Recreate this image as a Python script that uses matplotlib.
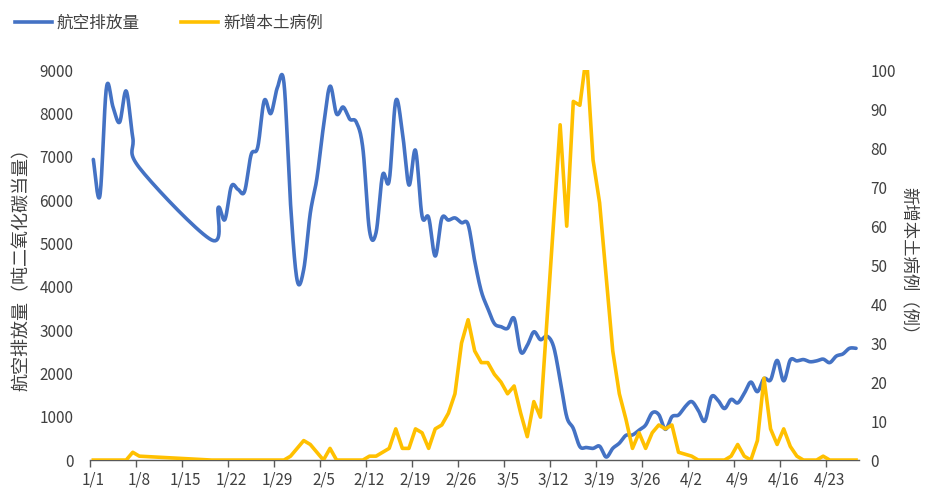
import numpy as np
import pandas as pd
import matplotlib
matplotlib.use("Agg")
import matplotlib.pyplot as plt
from matplotlib.lines import Line2D

plt.rcParams['font.family'] = ['Noto Sans CJK SC', 'DejaVu Sans']

# daily series, 2022-01-01 .. 2022-04-27 (nan = no data)
nan = np.nan
emissions = [
    6940, 6100, 8600, 8150, 7800, 8520, 7450, 6750,
    nan, nan, nan, nan, nan, nan, nan, nan, nan, nan,
    5080, 5830, 5550, 6320, 6250, 6200, 7050, 7220, 8300, 8000,
    8600, 8700, 5900, 4150, 4400, 5700, 6500, 7700, 8630, 7990,
    8150, 7870, 7800, 7190, 5300, 5250, 6580, 6450, 8290, 7580,
    6350, 7150, 5630, 5600, 4710, 5580, 5540, 5590, 5480, 5440,
    4600, 3900, 3500, 3150, 3080, 3040, 3270, 2500, 2650, 2960,
    2780, 2860, 2620, 1850, 1000, 730, 310, 290, 270, 320,
    70, 270, 390, 570, 580, 690, 810, 1090, 1050, 710,
    1000, 1040, 1230, 1350, 1150, 900, 1460, 1380, 1190, 1400,
    1320, 1540, 1800, 1580, 1880, 1850, 2300, 1830, 2310, 2290,
    2320, 2270, 2290, 2330, 2250, 2400, 2450, 2580, 2580,
]
cases = [
    0, 0, 0, 0, 0, 0, 2, 1,
    nan, nan, nan, nan, nan, nan, nan, nan, nan, nan,
    0, 0, 0, 0, 0, 0, 0, 0, 0, 0,
    0, 0, 1, 3, 5, 4, 2, 0, 3, 0,
    0, 0, 0, 0, 1, 1, 2, 3, 8, 3,
    3, 8, 7, 3, 8, 9, 12, 17, 30, 36,
    28, 25, 25, 22, 20, 17, 19, 12, 6, 15,
    11, 36, 61, 86, 60, 92, 91, 104, 77, 66,
    47, 28, 17, 10.5, 3, 7, 3, 7, 9, 8,
    9, 2, 1.5, 1, 0, 0, 0, 0, 0, 1,
    4, 1, 0, 5, 21, 8, 4, 8, 3.5, 1,
    0, 0, 0, 1, 0, 0, 0, 0, 0,
]
dates = pd.date_range("2022-01-01", periods=len(emissions), freq="D")
tick_every = 7

BLUE = "#4472C4"
GOLD = "#FFC000"


def excel_smooth(x, y, n=20):
    # bezier smoothing like excel's "smoothed line"
    x = np.asarray(x, float)
    y = np.asarray(y, float)
    px, py = [], []
    m = len(x)
    for i in range(m - 1):
        i0 = max(i - 1, 0)
        i3 = min(i + 2, m - 1)
        p0 = np.array([x[i], y[i]])
        p1 = np.array([x[i + 1], y[i + 1]])
        c1 = p0 + (np.array([x[i + 1], y[i + 1]]) - np.array([x[i0], y[i0]])) / 6
        c2 = p1 - (np.array([x[i3], y[i3]]) - np.array([x[i], y[i]])) / 6
        t = np.linspace(0, 1, n)[:, None]
        seg = ((1 - t) ** 3) * p0 + 3 * ((1 - t) ** 2) * t * c1 + 3 * (1 - t) * t ** 2 * c2 + t ** 3 * p1
        px.extend(seg[:, 0])
        py.extend(seg[:, 1])
    return np.array(px), np.array(py)


fig = plt.figure(figsize=(9.28, 4.91), dpi=100)
ax = fig.add_axes([0.097, 0.063, 0.829, 0.794])
ax2 = ax.twinx()

idx = np.arange(len(emissions))
e = np.array(emissions, float)
c = np.array(cases, float)
ok = ~np.isnan(e)
sx, sy = excel_smooth(idx[ok], e[ok])
ax.plot(sx, sy, color=BLUE, lw=2.6, solid_capstyle="round", solid_joinstyle="round")
ok2 = ~np.isnan(c)
ax2.plot(idx[ok2], c[ok2], color=GOLD, lw=2.6, solid_joinstyle="round")

ax.set_xlim(-0.5, len(emissions) - 0.5)
ax.set_ylim(0, 9000)
ax2.set_ylim(0, 100)
ax.set_yticks(np.arange(0, 9001, 1000))
ax2.set_yticks(np.arange(0, 101, 10))

tick_pos = idx[::tick_every]
ax.set_xticks(tick_pos - 0.5)
ax.set_xticklabels([])
ax.set_xticks(tick_pos, minor=True)
ax.set_xticklabels([f"{d.month}/{d.day}" for d in dates[::tick_every]], minor=True)
ax.tick_params(axis="x", which="major", length=5, width=1, color="#595959", direction="out")
ax.tick_params(axis="x", which="minor", length=0, pad=8, labelsize=11, labelcolor="#404040")
ax.tick_params(axis="y", length=0, labelsize=11, labelcolor="#404040", pad=12)
ax2.tick_params(axis="y", length=0, labelsize=11, labelcolor="#404040", pad=8)

for a in (ax, ax2):
    for s in ("top", "left", "right"):
        a.spines[s].set_visible(False)
ax2.spines["bottom"].set_visible(False)
ax.spines["bottom"].set_color("#595959")
ax.spines["bottom"].set_linewidth(1)

ax.set_ylabel("航空排放量（吨二氧化碳当量）", fontsize=13, color="#404040", labelpad=6)
ax2.set_ylabel("新增本土病例（例）", fontsize=12.5, color="#404040", rotation=270, labelpad=16)

handles = [Line2D([], [], color=BLUE, lw=2.6), Line2D([], [], color=GOLD, lw=2.6)]
fig.legend(handles, ["航空排放量", "新增本土病例"], loc="upper left", bbox_to_anchor=(0.0, 1.0),
           ncol=2, frameon=False, fontsize=12, handlelength=2.2, handletextpad=0.3,
           columnspacing=2.5, labelcolor="#404040")

fig.savefig("out.png", dpi=100)
